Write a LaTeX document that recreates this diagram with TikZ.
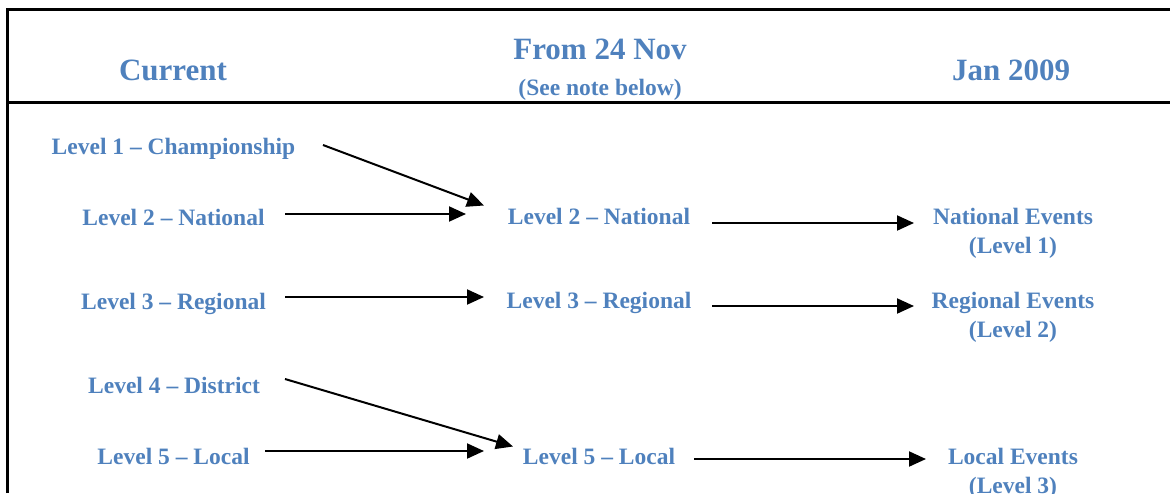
\documentclass[tikz,border=0pt]{standalone}
\usepackage{fontspec}
\setmainfont{Liberation Serif}
\usetikzlibrary{arrows.meta}
\definecolor{headblue}{HTML}{4F81BD}
\tikzset{
  lbl/.style={anchor=base, inner sep=0pt, text=headblue, font=\bfseries\fontsize{23.5}{29}\selectfont, align=center},
  hdr/.style={anchor=base, inner sep=0pt, text=headblue, font=\bfseries\fontsize{31}{36}\selectfont},
  sub/.style={anchor=base, inner sep=0pt, text=headblue, font=\bfseries\fontsize{23.5}{28}\selectfont},
  rule/.style={line width=3pt},
  link/.style={line width=2pt, -{Triangle[length=17pt,width=15pt]}},
}
\begin{document}
\begin{tikzpicture}[x=1pt, y=-1pt]
\useasboundingbox (0,0) rectangle (1170,493);
% table frame
\draw[rule] (7.5,493) -- (7.5,9.5) -- (1170,9.5);
\draw[rule] (6,102.5) -- (1170,102.5);
% column headings
\node[hdr] (hcur) at (173,80) {Current};
\node[hdr] (hnov) at (600,59) {From 24 Nov};
\node[sub] (hnote) at (600,95) {(See note below)};
\node[hdr] (hjan) at (1011,80) {Jan 2009};
% current levels
\node[lbl] (c1) at (173.5,154) {Level 1 -- Championship};
\node[lbl] (c2) at (173.5,225) {Level 2 -- National};
\node[lbl] (c3) at (173.5,309) {Level 3 -- Regional};
\node[lbl] (c4) at (174,393) {Level 4 -- District};
\node[lbl] (c5) at (173.5,464) {Level 5 -- Local};
% levels from 24 Nov
\node[lbl] (m2) at (599,224) {Level 2 -- National};
\node[lbl] (m3) at (599,308) {Level 3 -- Regional};
\node[lbl] (m5) at (599,464) {Level 5 -- Local};
% levels from Jan 2009 (base anchor sits on the second line)
\node[lbl] (j1) at (1013,253) {National Events\\(Level 1)};
\node[lbl] (j2) at (1013,337) {Regional Events\\(Level 2)};
\node[lbl] (j3) at (1013,493) {Local Events\\(Level 3)};
% arrow end points
\coordinate (c1o) at (323,145);
\coordinate (c2o) at (285,214);
\coordinate (c3o) at (285,297);
\coordinate (c4o) at (285,379);
\coordinate (c5o) at (265,451);
\coordinate (m2a) at (484,205.5);
\coordinate (m2b) at (466,214);
\coordinate (m3i) at (484,297);
\coordinate (m5a) at (513,446.5);
\coordinate (m5b) at (484,451);
\coordinate (m2o) at (712,223);
\coordinate (m3o) at (712,306);
\coordinate (m5o) at (694,459);
\coordinate (j1i) at (914,223);
\coordinate (j2i) at (914,306);
\coordinate (j3i) at (926,459);
% transitions
\draw[link] (c1o) -- (m2a);
\draw[link] (c2o) -- (m2b);
\draw[link] (c3o) -- (m3i);
\draw[link] (c4o) -- (m5a);
\draw[link] (c5o) -- (m5b);
\draw[link] (m2o) -- (j1i);
\draw[link] (m3o) -- (j2i);
\draw[link] (m5o) -- (j3i);
\end{tikzpicture}
\end{document}
